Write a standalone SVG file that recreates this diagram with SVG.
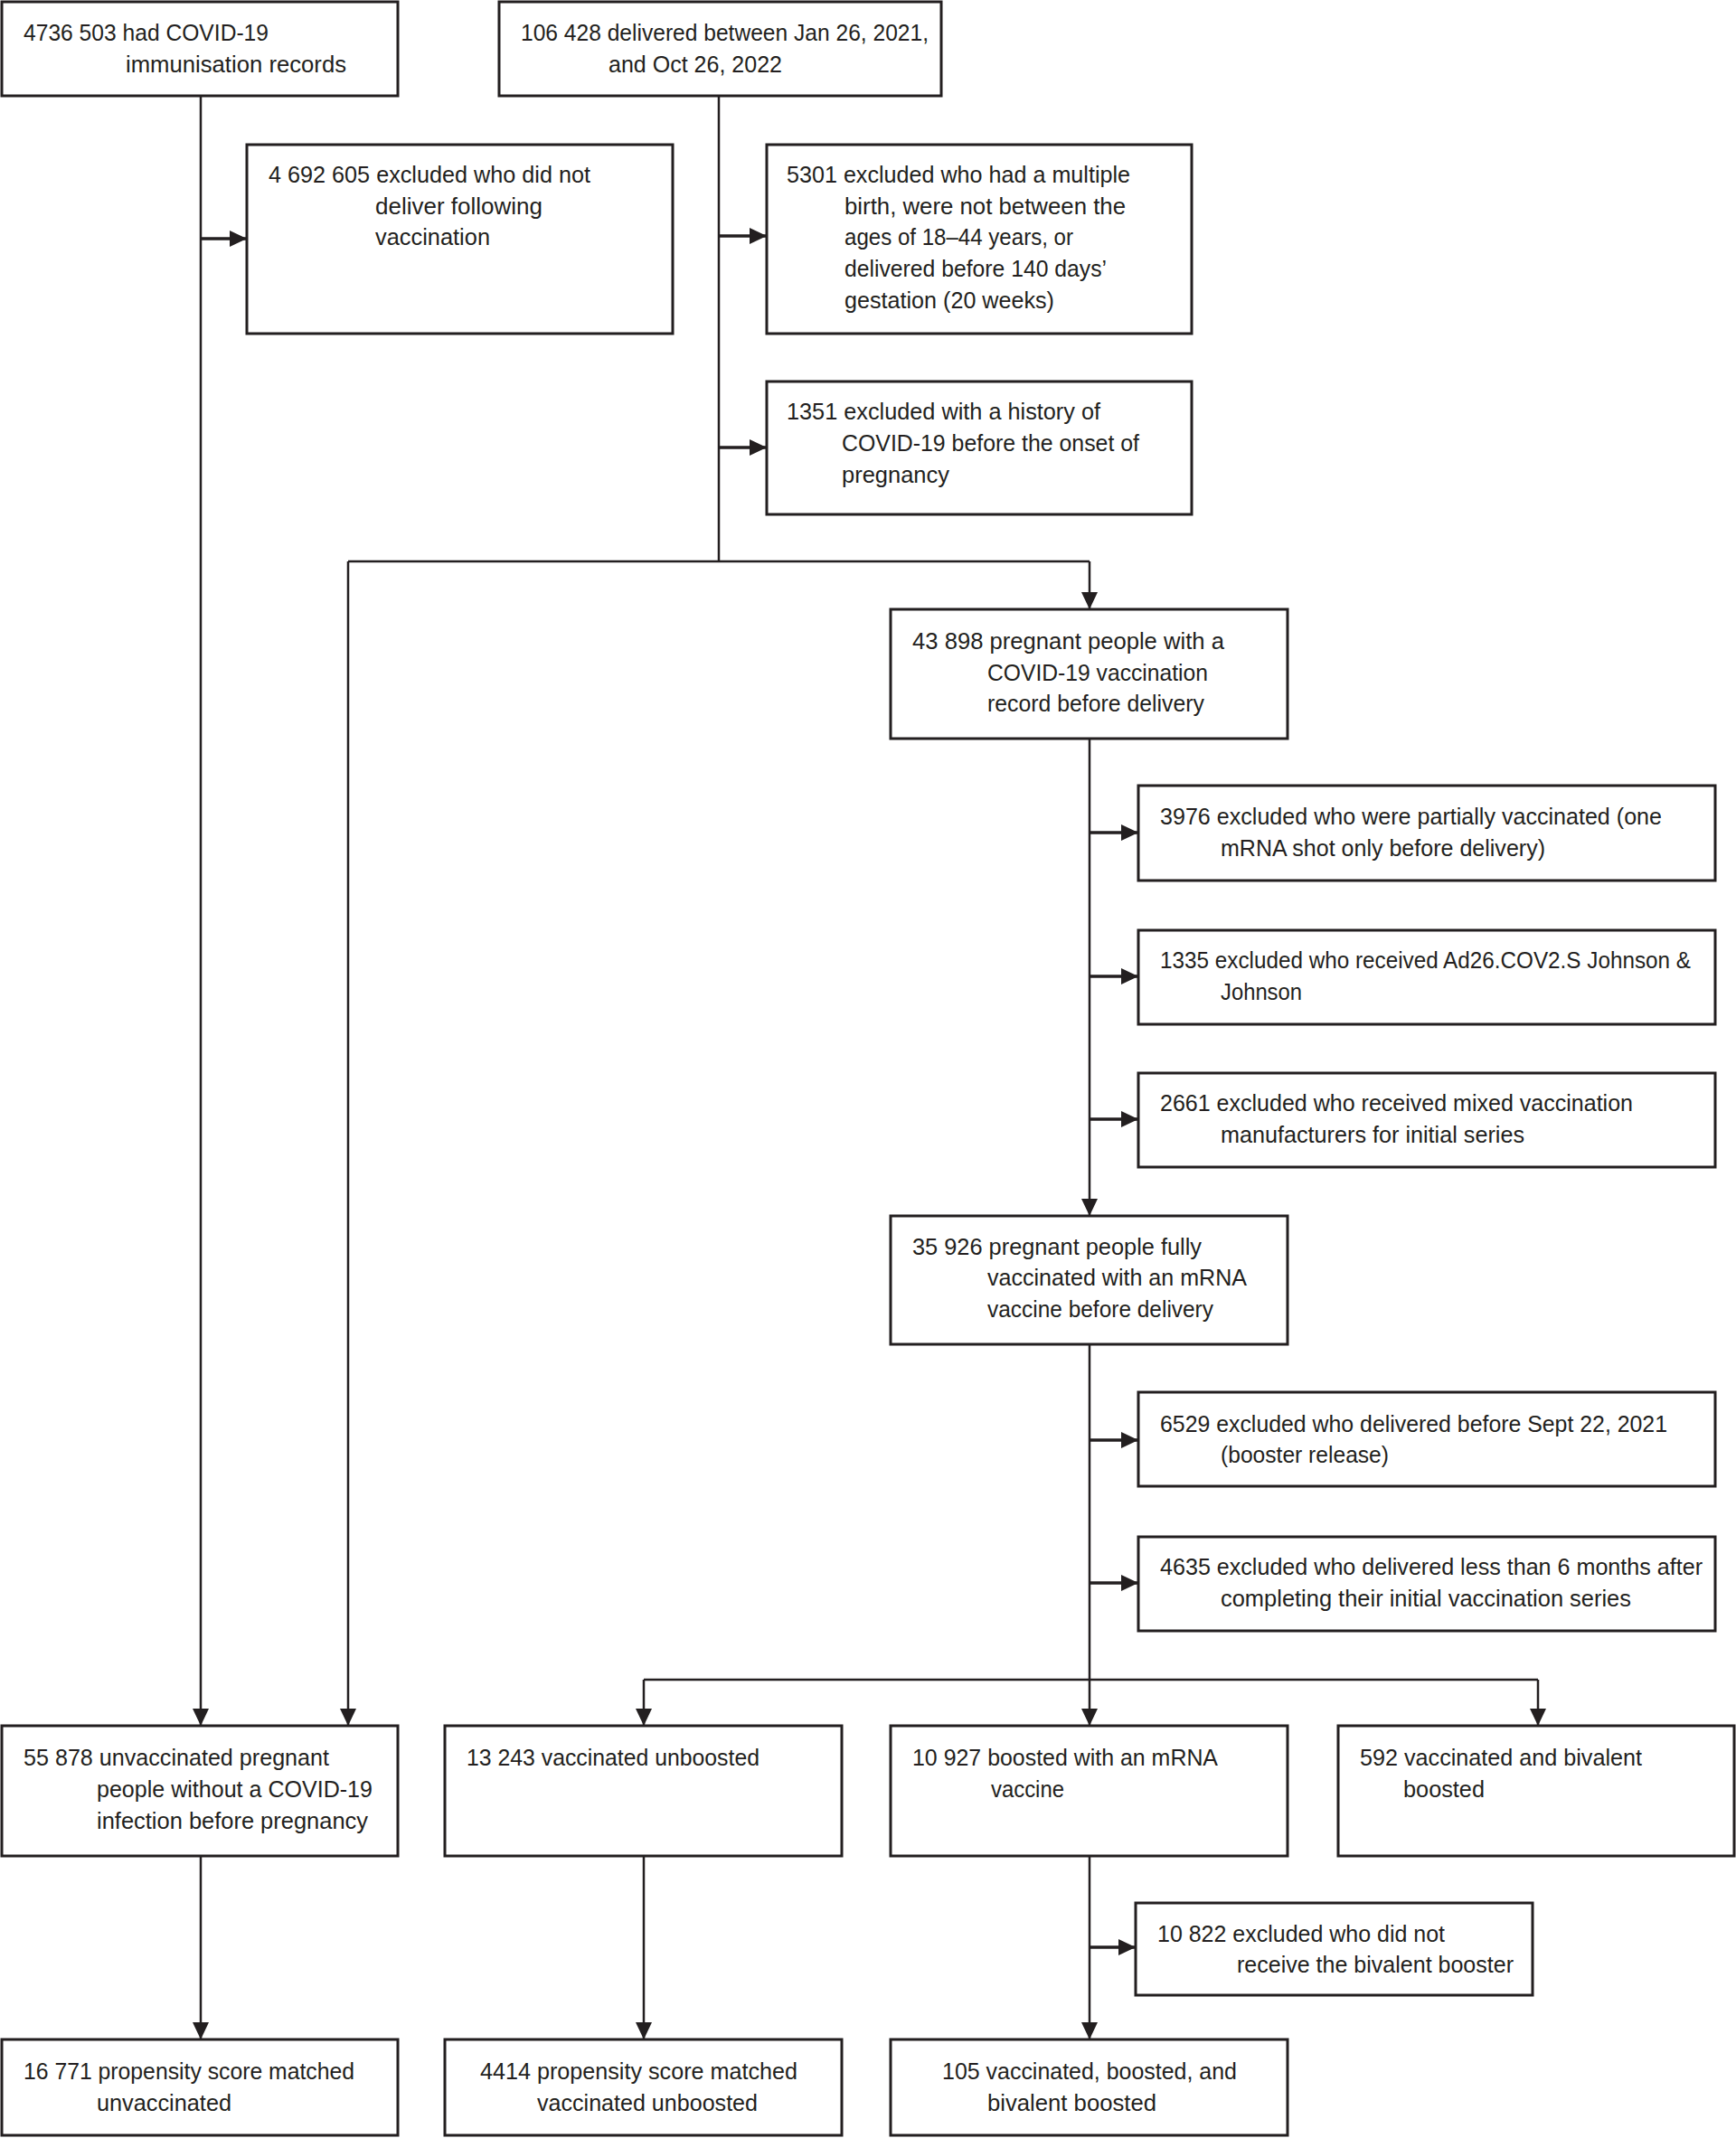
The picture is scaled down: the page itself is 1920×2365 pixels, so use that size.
<svg xmlns="http://www.w3.org/2000/svg" width="1920" height="2365" viewBox="0 0 1920 2365">
<style>
.box{fill:#fff;stroke:#231f20;stroke-width:3}
.ln{fill:none;stroke:#231f20;stroke-width:2.5}
.ar{fill:none;stroke:#231f20;stroke-width:2.5;marker-end:url(#ah)}
.arh{fill:none;stroke:#231f20;stroke-width:3.5;marker-end:url(#ah)}
text{font-family:"Liberation Sans","Noto Sans",Arial,sans-serif;font-size:25px;fill:#231f20}
</style>
<defs>
<marker id="ah" markerUnits="userSpaceOnUse" markerWidth="22" markerHeight="20" refX="19" refY="9" orient="auto">
<path d="M0,0 L19,9 L0,18 z" fill="#231f20"/>
</marker>
</defs>
<rect width="1920" height="2365" fill="#fff"/>
<g id="connectors">
<path class="ar" d="M222,106 V1909"/>
<path class="ln" d="M795,106 V621"/>
<path class="ln" d="M385,621 H1205"/>
<path class="ar" d="M385,621 V1909"/>
<path class="ar" d="M1205,621 V674"/>
<path class="ar" d="M1205,817 V1345"/>
<path class="ar" d="M1205,1487 V1909"/>
<path class="ln" d="M712,1858 H1701"/>
<path class="ar" d="M712,1858 V1909"/>
<path class="ar" d="M1701,1858 V1909"/>
<path class="ar" d="M222,2053 V2256"/>
<path class="ar" d="M712,2053 V2256"/>
<path class="ar" d="M1205,2053 V2256"/>
<path class="arh" d="M222,264 H273"/>
<path class="arh" d="M795,261 H848"/>
<path class="arh" d="M795,495 H848"/>
<path class="arh" d="M1205,921 H1259"/>
<path class="arh" d="M1205,1080 H1259"/>
<path class="arh" d="M1205,1238 H1259"/>
<path class="arh" d="M1205,1593 H1259"/>
<path class="arh" d="M1205,1751 H1259"/>
<path class="arh" d="M1205,2154 H1256"/>
</g>
<g id="nA"><rect class="box" x="2" y="2" width="438" height="104"/>
<text x="26" y="45" textLength="271" lengthAdjust="spacingAndGlyphs">4736 503 had COVID-19</text>
<text x="139" y="80" textLength="244" lengthAdjust="spacingAndGlyphs">immunisation records</text></g>
<g id="nB"><rect class="box" x="552" y="2" width="489" height="104"/>
<text x="576" y="45" textLength="451" lengthAdjust="spacingAndGlyphs">106 428 delivered between Jan 26, 2021,</text>
<text x="673" y="80" textLength="192" lengthAdjust="spacingAndGlyphs">and Oct 26, 2022</text></g>
<g id="nC"><rect class="box" x="273" y="160" width="471" height="209"/>
<text x="297" y="202" textLength="356" lengthAdjust="spacingAndGlyphs">4 692 605 excluded who did not</text>
<text x="415" y="237" textLength="185" lengthAdjust="spacingAndGlyphs">deliver following</text>
<text x="415" y="271" textLength="127" lengthAdjust="spacingAndGlyphs">vaccination</text></g>
<g id="nD"><rect class="box" x="848" y="160" width="470" height="209"/>
<text x="870" y="202" textLength="380" lengthAdjust="spacingAndGlyphs">5301 excluded who had a multiple</text>
<text x="934" y="237" textLength="311" lengthAdjust="spacingAndGlyphs">birth, were not between the</text>
<text x="934" y="271" textLength="253" lengthAdjust="spacingAndGlyphs">ages of 18–44 years, or</text>
<text x="934" y="306" textLength="290" lengthAdjust="spacingAndGlyphs">delivered before 140 days’</text>
<text x="934" y="341" textLength="232" lengthAdjust="spacingAndGlyphs">gestation (20 weeks)</text></g>
<g id="nE"><rect class="box" x="848" y="422" width="470" height="147"/>
<text x="870" y="464" textLength="347" lengthAdjust="spacingAndGlyphs">1351 excluded with a history of</text>
<text x="931" y="499" textLength="329" lengthAdjust="spacingAndGlyphs">COVID-19 before the onset of</text>
<text x="931" y="534" textLength="119" lengthAdjust="spacingAndGlyphs">pregnancy</text></g>
<g id="nF"><rect class="box" x="985" y="674" width="439" height="143"/>
<text x="1009" y="718" textLength="345" lengthAdjust="spacingAndGlyphs">43 898 pregnant people with a</text>
<text x="1092" y="753" textLength="244" lengthAdjust="spacingAndGlyphs">COVID-19 vaccination</text>
<text x="1092" y="787" textLength="240" lengthAdjust="spacingAndGlyphs">record before delivery</text></g>
<g id="nH"><rect class="box" x="1259" y="869" width="638" height="105"/>
<text x="1283" y="912" textLength="555" lengthAdjust="spacingAndGlyphs">3976 excluded who were partially vaccinated (one</text>
<text x="1350" y="947" textLength="359" lengthAdjust="spacingAndGlyphs">mRNA shot only before delivery)</text></g>
<g id="nI"><rect class="box" x="1259" y="1029" width="638" height="104"/>
<text x="1283" y="1071" textLength="587" lengthAdjust="spacingAndGlyphs">1335 excluded who received Ad26.COV2.S Johnson &amp;</text>
<text x="1350" y="1106" textLength="90" lengthAdjust="spacingAndGlyphs">Johnson</text></g>
<g id="nJ"><rect class="box" x="1259" y="1187" width="638" height="104"/>
<text x="1283" y="1229" textLength="523" lengthAdjust="spacingAndGlyphs">2661 excluded who received mixed vaccination</text>
<text x="1350" y="1264" textLength="336" lengthAdjust="spacingAndGlyphs">manufacturers for initial series</text></g>
<g id="nG"><rect class="box" x="985" y="1345" width="439" height="142"/>
<text x="1009" y="1388" textLength="320" lengthAdjust="spacingAndGlyphs">35 926 pregnant people fully</text>
<text x="1092" y="1422" textLength="287" lengthAdjust="spacingAndGlyphs">vaccinated with an mRNA</text>
<text x="1092" y="1457" textLength="250" lengthAdjust="spacingAndGlyphs">vaccine before delivery</text></g>
<g id="nK"><rect class="box" x="1259" y="1540" width="638" height="104"/>
<text x="1283" y="1584" textLength="561" lengthAdjust="spacingAndGlyphs">6529 excluded who delivered before Sept 22, 2021</text>
<text x="1350" y="1618" textLength="186" lengthAdjust="spacingAndGlyphs">(booster release)</text></g>
<g id="nL"><rect class="box" x="1259" y="1700" width="638" height="104"/>
<text x="1283" y="1742" textLength="600" lengthAdjust="spacingAndGlyphs">4635 excluded who delivered less than 6 months after</text>
<text x="1350" y="1777" textLength="454" lengthAdjust="spacingAndGlyphs">completing their initial vaccination series</text></g>
<g id="nM"><rect class="box" x="2" y="1909" width="438" height="144"/>
<text x="26" y="1953" textLength="338" lengthAdjust="spacingAndGlyphs">55 878 unvaccinated pregnant</text>
<text x="107" y="1988" textLength="305" lengthAdjust="spacingAndGlyphs">people without a COVID-19</text>
<text x="107" y="2023" textLength="300" lengthAdjust="spacingAndGlyphs">infection before pregnancy</text></g>
<g id="nN"><rect class="box" x="492" y="1909" width="439" height="144"/>
<text x="516" y="1953" textLength="324" lengthAdjust="spacingAndGlyphs">13 243 vaccinated unboosted</text></g>
<g id="nO"><rect class="box" x="985" y="1909" width="439" height="144"/>
<text x="1009" y="1953" textLength="338" lengthAdjust="spacingAndGlyphs">10 927 boosted with an mRNA</text>
<text x="1096" y="1988" textLength="81" lengthAdjust="spacingAndGlyphs">vaccine</text></g>
<g id="nP"><rect class="box" x="1480" y="1909" width="438" height="144"/>
<text x="1504" y="1953" textLength="312" lengthAdjust="spacingAndGlyphs">592 vaccinated and bivalent</text>
<text x="1552" y="1988" textLength="90" lengthAdjust="spacingAndGlyphs">boosted</text></g>
<g id="nQ"><rect class="box" x="1256" y="2105" width="439" height="102"/>
<text x="1280" y="2148" textLength="318" lengthAdjust="spacingAndGlyphs">10 822 excluded who did not</text>
<text x="1368" y="2182" textLength="306" lengthAdjust="spacingAndGlyphs">receive the bivalent booster</text></g>
<g id="nR"><rect class="box" x="2" y="2256" width="438" height="106"/>
<text x="26" y="2300" textLength="366" lengthAdjust="spacingAndGlyphs">16 771 propensity score matched</text>
<text x="107" y="2335" textLength="149" lengthAdjust="spacingAndGlyphs">unvaccinated</text></g>
<g id="nS"><rect class="box" x="492" y="2256" width="439" height="106"/>
<text x="531" y="2300" textLength="351" lengthAdjust="spacingAndGlyphs">4414 propensity score matched</text>
<text x="594" y="2335" textLength="244" lengthAdjust="spacingAndGlyphs">vaccinated unboosted</text></g>
<g id="nT"><rect class="box" x="985" y="2256" width="439" height="106"/>
<text x="1042" y="2300" textLength="326" lengthAdjust="spacingAndGlyphs">105 vaccinated, boosted, and</text>
<text x="1092" y="2335" textLength="187" lengthAdjust="spacingAndGlyphs">bivalent boosted</text></g>
</svg>
